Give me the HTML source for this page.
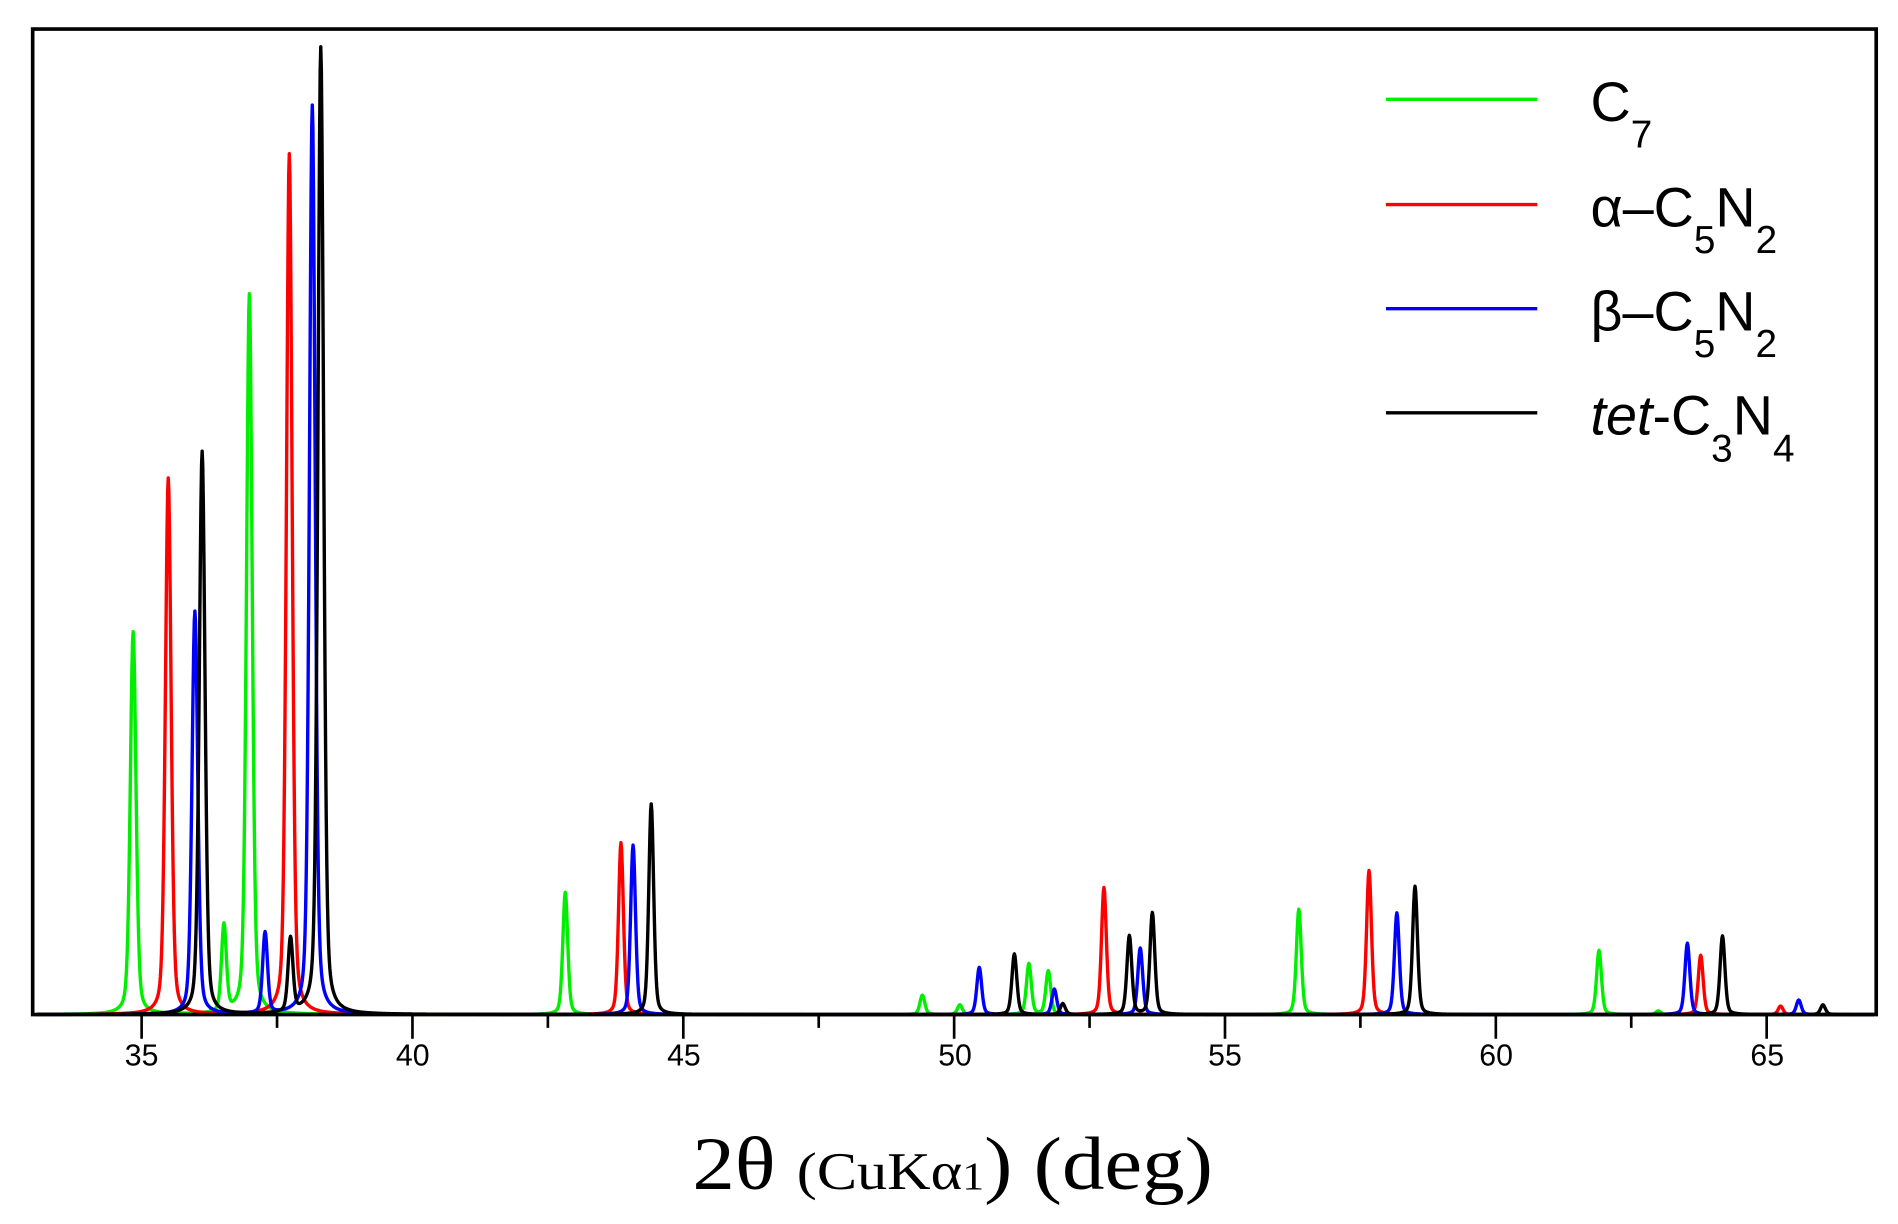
<!DOCTYPE html>
<html><head><meta charset="utf-8"><style>
html,body{margin:0;padding:0;background:#fff;}
svg{display:block;}
</style></head><body>
<svg id="s" width="1898" height="1224" viewBox="0 0 1568 1011" preserveAspectRatio="none" xmlns="http://www.w3.org/2000/svg">
<rect x="0" y="0" width="1568" height="1011" fill="#fff"/>
<g id="plots"></g>
<rect x="27" y="24" width="1523" height="814" fill="none" stroke="#000" stroke-width="3"/>
<g id="ticks" stroke="#000" stroke-width="2.2"></g>
<g font-family="Liberation Sans, sans-serif" font-size="25" text-anchor="middle" fill="#000">
<text x="117" y="880">35</text><text x="341" y="880">40</text><text x="565" y="880">45</text>
<text x="789" y="880">50</text><text x="1012" y="880">55</text><text x="1236" y="880">60</text><text x="1460" y="880">65</text>
</g>
<text x="572" y="982" textLength="430" lengthAdjust="spacingAndGlyphs" font-family="Liberation Serif, serif" font-size="62" fill="#000">2θ <tspan font-size="44">(CuKα</tspan><tspan font-size="32">1</tspan><tspan font-size="62">) (deg)</tspan></text>
<g stroke-width="2.8">
<line x1="1145" y1="82" x2="1270" y2="82" stroke="#00ee00"/>
<line x1="1145" y1="169" x2="1270" y2="169" stroke="#ff0000"/>
<line x1="1145" y1="255" x2="1270" y2="255" stroke="#0000ff"/>
<line x1="1145" y1="341" x2="1270" y2="341" stroke="#000"/>
</g>
<g font-family="Liberation Sans, sans-serif" font-size="46" fill="#000">
<text x="1314" y="100">C<tspan font-size="32" dy="22">7</tspan></text>
<text x="1314" y="187">α–C<tspan font-size="32" dy="22">5</tspan><tspan dy="-22">N</tspan><tspan font-size="32" dy="22">2</tspan></text>
<text x="1314" y="273">β–C<tspan font-size="32" dy="22">5</tspan><tspan dy="-22">N</tspan><tspan font-size="32" dy="22">2</tspan></text>
<text x="1314" y="359"><tspan font-style="italic">tet</tspan>-C<tspan font-size="32" dy="22">3</tspan><tspan dy="-22">N</tspan><tspan font-size="32" dy="22">4</tspan></text>
</g>
</svg>
<script>
var B=838;
var series=[
["#00ee00",[[110,522],[185,766],[206,243],[467,737],[762,822],[793,830],[850,796],[866,802],[1073,751],[1321,785],[1370,835]]],
["#ff0000",[[139,395],[239,127],[513,696],[912,733],[1131,719],[1405,789],[1471,831]]],
["#0000ff",[[161,505],[219,771],[258,87],[523,698],[809,799],[871,817],[942,783],[1154,754],[1394,779],[1486,826]]],
["#000000",[[167,373],[240,777],[265,39],[538,664],[838,788],[878,829],[933,773],[952,754],[1169,732],[1423,773],[1506,830]]]
];
var g=document.getElementById('plots');
series.forEach(function(s){
 var d='';
 for(var x=30;x<=1548;x+=0.5){
  var y=0;
  s[1].forEach(function(p){var h=B-p[1];var w=h>300?2.8:2.4;var t=(x-p[0])/w;
   y+=h*(0.35/(1+t*t)+0.65*Math.exp(-0.693*t*t));});
  var yy=Math.max(B-y,26);
  d+=(d?'L':'M')+x.toFixed(1)+' '+yy.toFixed(1);
 }
 var e=document.createElementNS('http://www.w3.org/2000/svg','path');
 e.setAttribute('d',d);e.setAttribute('fill','none');e.setAttribute('stroke',s[0]);e.setAttribute('stroke-width','2.8');e.setAttribute('stroke-linejoin','round');
 g.appendChild(e);
});
var tk=document.getElementById('ticks');
for(var v=35;v<=67;v+=2.5){
 var x=117+(v-35)*44.75;var major=(v%5===0);
 var l=document.createElementNS('http://www.w3.org/2000/svg','line');
 l.setAttribute('x1',x);l.setAttribute('x2',x);l.setAttribute('y1',838);l.setAttribute('y2',major?858:849);
 tk.appendChild(l);
}
</script>
</body></html>
